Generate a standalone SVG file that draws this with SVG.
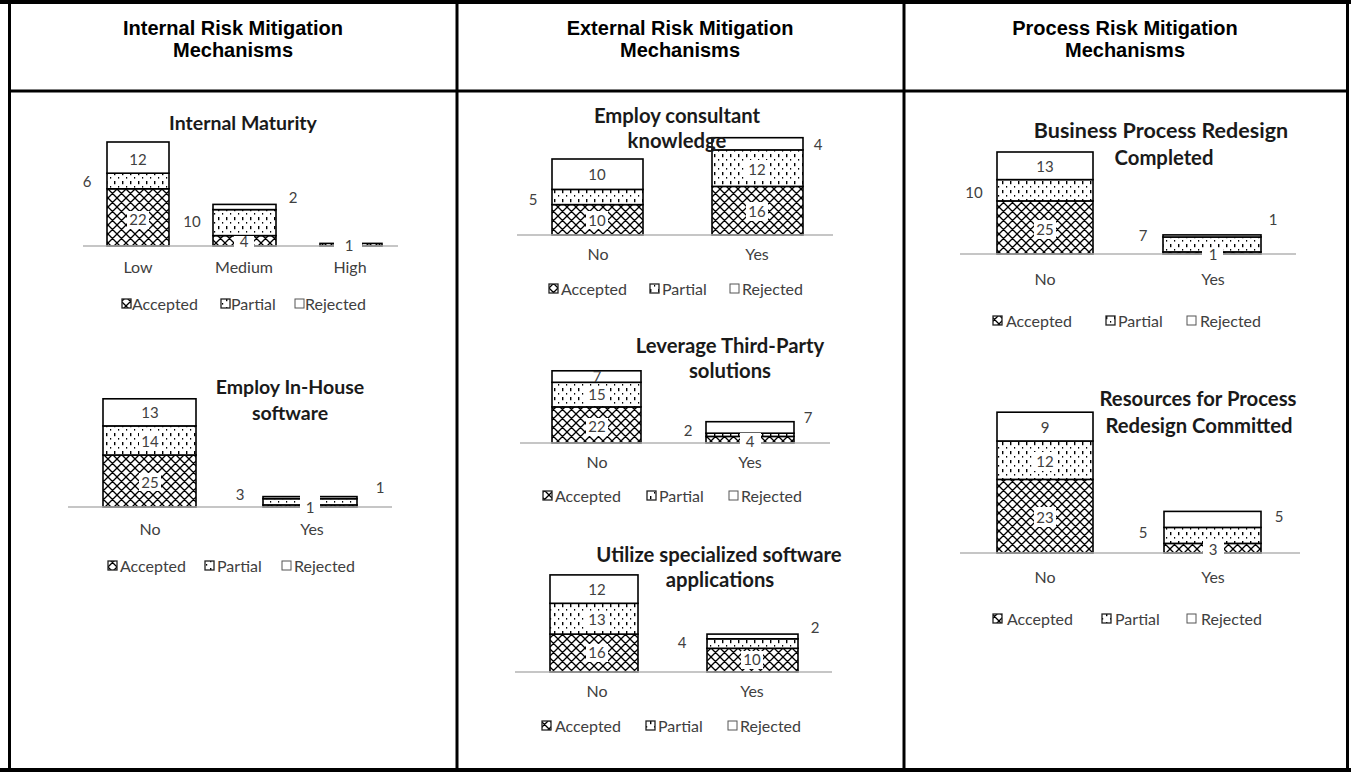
<svg xmlns="http://www.w3.org/2000/svg" width="1351" height="772" viewBox="0 0 1351 772">
<defs>
<pattern id="hatchA" patternUnits="userSpaceOnUse" width="9" height="9">
<rect width="9" height="9" fill="#fff"/>
<path d="M0,0 L9,9 M9,0 L0,9 M-1,8 L1,10 M8,-1 L10,1 M-1,1 L1,-1 M8,10 L10,8" stroke="#000" stroke-width="1.3" fill="none"/>
</pattern>
<pattern id="dotP" patternUnits="userSpaceOnUse" width="8" height="9">
<rect width="8" height="9" fill="#fff"/>
<rect x="2" y="1" width="1.4" height="3.2" fill="#000"/>
<rect x="6" y="6" width="1.2" height="1.6" fill="#000"/>
</pattern>
<style>
.hdr{font-family:"Liberation Sans",Arial,sans-serif;font-weight:bold;font-size:20px;text-anchor:middle;fill:#000}
.ttl{font-family:Lato,"Open Sans",sans-serif;font-weight:bold;font-size:20.3px;text-anchor:middle;fill:#1a1a1a}
.t1{font-size:19.5px}
.t2{font-size:21.5px}
.lbl{font-family:Lato,"Open Sans",sans-serif;font-size:15px;text-anchor:middle;fill:#404040}
.cat{font-family:Lato,"Open Sans",sans-serif;font-size:16px;text-anchor:middle;fill:#404040}
.leg{font-family:Lato,"Open Sans",sans-serif;font-size:16px;fill:#404040}
.acc{fill:url(#hatchA);stroke:#000;stroke-width:1.6}
.par{fill:url(#dotP);stroke:#000;stroke-width:1.6}
.rej{fill:#fff;stroke:#000;stroke-width:1.6}
.ia{fill:url(#hatchA);stroke:#222;stroke-width:1.3}
.ip{fill:url(#dotP);stroke:#222;stroke-width:1.3}
.ir{fill:#fff;stroke:#555;stroke-width:1}
.axis{stroke:#b3b3b3;stroke-width:1.5;fill:none}
.bg{fill:#fff}
.grid{stroke:#000;fill:none}
</style>
</defs>
<rect width="1351" height="772" fill="#fff"/>

<g id="table">
<line class="grid" x1="0" y1="2" x2="1351" y2="2" stroke-width="4"/>
<line class="grid" x1="9.5" y1="0" x2="9.5" y2="772" stroke-width="3"/>
<line class="grid" x1="1347.5" y1="0" x2="1347.5" y2="772" stroke-width="3"/>
<line class="grid" x1="0" y1="770" x2="1351" y2="770" stroke-width="4"/>
<line class="grid" x1="9" y1="91" x2="1349" y2="91" stroke-width="3"/>
<line class="grid" x1="457" y1="2" x2="457" y2="770" stroke-width="3"/>
<line class="grid" x1="904" y1="2" x2="904" y2="770" stroke-width="3"/>
</g>

<g id="header-internal">
<text class="hdr" x="233" y="35">Internal Risk Mitigation</text>
<text class="hdr" x="233" y="57">Mechanisms</text>
</g>
<g id="header-external">
<text class="hdr" x="680" y="35">External Risk Mitigation</text>
<text class="hdr" x="680" y="57">Mechanisms</text>
</g>
<g id="header-process">
<text class="hdr" x="1125" y="35">Process Risk Mitigation</text>
<text class="hdr" x="1125" y="57">Mechanisms</text>
</g>

<g id="chart-internal-maturity">
<text class="ttl t1" x="243" y="130">Internal Maturity</text>
<rect class="acc" x="107" y="188.8" width="62" height="57.2"/>
<rect class="par" x="107" y="173.2" width="62" height="15.6"/>
<rect class="rej" x="107" y="142" width="62" height="31.2"/>
<rect class="acc" x="213" y="235.6" width="63" height="10.4"/>
<rect class="par" x="213" y="209.6" width="63" height="26"/>
<rect class="rej" x="213" y="204.4" width="63" height="5.2"/>
<rect class="acc" x="320" y="243.4" width="62" height="2.6"/>
<line class="axis" x1="83" y1="246" x2="398" y2="246"/>
<rect class="bg" x="127" y="211" width="22" height="18"/>
<rect class="bg" x="234" y="236" width="20" height="15"/>
<rect class="bg" x="334" y="238" width="28" height="16"/>
<text class="lbl" x="138" y="165">12</text>
<text class="lbl" x="87" y="187">6</text>
<text class="lbl" x="138" y="225">22</text>
<text class="lbl" x="192" y="227">10</text>
<text class="lbl" x="293" y="203">2</text>
<text class="lbl" x="244" y="247">4</text>
<text class="lbl" x="349" y="251">1</text>
<text class="cat" x="138" y="273">Low</text>
<text class="cat" x="244" y="273">Medium</text>
<text class="cat" x="350" y="273">High</text>
<rect class="ia" x="122" y="299" width="9" height="9"/><text class="leg" x="132" y="310">Accepted</text>
<rect class="ip" x="221" y="299" width="9" height="9"/><text class="leg" x="231" y="310">Partial</text>
<rect class="ir" x="295" y="299" width="9" height="9"/><text class="leg" x="305" y="310">Rejected</text>
</g>

<g id="chart-inhouse-software">
<rect class="acc" x="103" y="455" width="93" height="52"/>
<rect class="par" x="103" y="425.9" width="93" height="29.1"/>
<rect class="rej" x="103" y="398.8" width="93" height="27.1"/>
<rect class="acc" x="263" y="504.9" width="94" height="2.1"/>
<rect class="par" x="263" y="498.7" width="94" height="6.2"/>
<rect class="rej" x="263" y="496.6" width="94" height="2.1"/>
<line class="axis" x1="68" y1="507" x2="392" y2="507"/>
<rect class="bg" x="139" y="432" width="22" height="18"/>
<rect class="bg" x="139" y="473" width="22" height="18"/>
<rect class="bg" x="300" y="494" width="20" height="20"/>
<text class="ttl t1" x="290" y="394">Employ In-House</text>
<text class="ttl t1" x="290" y="420">software</text>
<text class="lbl" x="150" y="418">13</text>
<text class="lbl" x="150" y="447">14</text>
<text class="lbl" x="150" y="488">25</text>
<text class="lbl" x="240" y="500">3</text>
<text class="lbl" x="380" y="493">1</text>
<text class="lbl" x="310" y="513">1</text>
<text class="cat" x="150" y="535">No</text>
<text class="cat" x="312" y="535">Yes</text>
<rect class="ia" x="108" y="561" width="9" height="9"/><text class="leg" x="120" y="572">Accepted</text>
<rect class="ip" x="205" y="561" width="9" height="9"/><text class="leg" x="217" y="572">Partial</text>
<rect class="ir" x="282" y="561" width="9" height="9"/><text class="leg" x="294" y="572">Rejected</text>
</g>

<g id="chart-consultant-knowledge">
<rect class="acc" x="552" y="204.6" width="91" height="30.4"/>
<rect class="par" x="552" y="189.4" width="91" height="15.2"/>
<rect class="rej" x="552" y="159" width="91" height="30.4"/>
<rect class="acc" x="712" y="186.4" width="91" height="48.6"/>
<rect class="par" x="712" y="149.9" width="91" height="36.5"/>
<rect class="rej" x="712" y="137.7" width="91" height="12.2"/>
<line class="axis" x1="517" y1="235" x2="833" y2="235"/>
<rect class="bg" x="586" y="211" width="22" height="18"/>
<rect class="bg" x="746" y="160" width="22" height="19"/>
<rect class="bg" x="746" y="202" width="22" height="19"/>
<text class="ttl" x="677" y="123">Employ consultant</text>
<text class="ttl" x="677" y="148">knowledge</text>
<text class="lbl" x="597" y="180">10</text>
<text class="lbl" x="533" y="205">5</text>
<text class="lbl" x="597" y="226">10</text>
<text class="lbl" x="757" y="175">12</text>
<text class="lbl" x="757" y="217">16</text>
<text class="lbl" x="818" y="150">4</text>
<text class="cat" x="598" y="260">No</text>
<text class="cat" x="757" y="260">Yes</text>
<rect class="ia" x="549" y="284" width="9" height="9"/><text class="leg" x="561" y="295">Accepted</text>
<rect class="ip" x="650" y="284" width="9" height="9"/><text class="leg" x="662" y="295">Partial</text>
<rect class="ir" x="730" y="284" width="9" height="9"/><text class="leg" x="742" y="295">Rejected</text>
</g>

<g id="chart-third-party">
<rect class="acc" x="552" y="406.9" width="89" height="36.1"/>
<rect class="par" x="552" y="382.3" width="89" height="24.6"/>
<rect class="rej" x="552" y="370.8" width="89" height="11.5"/>
<rect class="acc" x="706" y="436.4" width="88" height="6.6"/>
<rect class="par" x="706" y="433.2" width="88" height="3.2"/>
<rect class="rej" x="706" y="421.7" width="88" height="11.5"/>
<line class="axis" x1="520" y1="443" x2="830" y2="443"/>
<rect class="bg" x="586" y="386" width="22" height="18"/>
<rect class="bg" x="586" y="418" width="22" height="18"/>
<rect class="bg" x="740" y="433" width="21" height="17"/>
<text class="ttl" x="730" y="353">Leverage Third-Party</text>
<text class="ttl" x="730" y="378">solutions</text>
<text class="lbl" x="597" y="382">7</text>
<text class="lbl" x="597" y="400">15</text>
<text class="lbl" x="597" y="432">22</text>
<text class="lbl" x="688" y="436">2</text>
<text class="lbl" x="808" y="423">7</text>
<text class="lbl" x="750" y="447">4</text>
<text class="cat" x="597" y="468">No</text>
<text class="cat" x="750" y="468">Yes</text>
<rect class="ia" x="543" y="491" width="9" height="9"/><text class="leg" x="555" y="502">Accepted</text>
<rect class="ip" x="647" y="491" width="9" height="9"/><text class="leg" x="659" y="502">Partial</text>
<rect class="ir" x="729" y="491" width="9" height="9"/><text class="leg" x="741" y="502">Rejected</text>
</g>

<g id="chart-specialized-software">
<rect class="acc" x="550" y="634.1" width="88" height="37.9"/>
<rect class="par" x="550" y="603.3" width="88" height="30.8"/>
<rect class="rej" x="550" y="574.9" width="88" height="28.4"/>
<rect class="acc" x="707" y="648.3" width="91" height="23.7"/>
<rect class="par" x="707" y="638.8" width="91" height="9.5"/>
<rect class="rej" x="707" y="634.1" width="91" height="4.7"/>
<line class="axis" x1="515" y1="672" x2="832" y2="672"/>
<rect class="bg" x="586" y="611" width="22" height="18"/>
<rect class="bg" x="586" y="644" width="22" height="18"/>
<rect class="bg" x="741" y="651" width="22" height="18"/>
<text class="ttl" x="719" y="562">Utilize specialized software</text>
<text class="ttl" x="720" y="587">applications</text>
<text class="lbl" x="597" y="595">12</text>
<text class="lbl" x="597" y="625">13</text>
<text class="lbl" x="597" y="658">16</text>
<text class="lbl" x="682" y="648">4</text>
<text class="lbl" x="752" y="665">10</text>
<text class="lbl" x="815" y="633">2</text>
<text class="cat" x="597" y="697">No</text>
<text class="cat" x="752" y="697">Yes</text>
<rect class="ia" x="542" y="721" width="9" height="9"/><text class="leg" x="555" y="732">Accepted</text>
<rect class="ip" x="646" y="721" width="9" height="9"/><text class="leg" x="658" y="732">Partial</text>
<rect class="ir" x="728" y="721" width="9" height="9"/><text class="leg" x="740" y="732">Rejected</text>
</g>

<g id="chart-bpr-completed">
<rect class="acc" x="997" y="200.9" width="96" height="53.1"/>
<rect class="par" x="997" y="179.6" width="96" height="21.3"/>
<rect class="rej" x="997" y="152" width="96" height="27.6"/>
<rect class="acc" x="1163" y="251.9" width="98" height="2.1"/>
<rect class="par" x="1163" y="237" width="98" height="14.9"/>
<rect class="rej" x="1163" y="234.9" width="98" height="2.1"/>
<line class="axis" x1="960" y1="254" x2="1296" y2="254"/>
<rect class="bg" x="1034" y="220" width="22" height="19"/>
<rect class="bg" x="1202" y="248" width="21" height="16"/>
<text class="ttl t2" x="1161" y="138">Business Process Redesign</text>
<text class="ttl" x="1164" y="165">Completed</text>
<text class="lbl" x="1045" y="172">13</text>
<text class="lbl" x="974" y="198">10</text>
<text class="lbl" x="1045" y="235">25</text>
<text class="lbl" x="1143" y="241">7</text>
<text class="lbl" x="1273" y="225">1</text>
<text class="lbl" x="1213" y="260">1</text>
<text class="cat" x="1045" y="285">No</text>
<text class="cat" x="1213" y="285">Yes</text>
<rect class="ia" x="993" y="316" width="9" height="9"/><text class="leg" x="1006" y="327">Accepted</text>
<rect class="ip" x="1106" y="316" width="9" height="9"/><text class="leg" x="1118" y="327">Partial</text>
<rect class="ir" x="1187" y="316" width="9" height="9"/><text class="leg" x="1200" y="327">Rejected</text>
</g>

<g id="chart-resources-committed">
<rect class="acc" x="997" y="479.4" width="96" height="73.6"/>
<rect class="par" x="997" y="441" width="96" height="38.4"/>
<rect class="rej" x="997" y="412.2" width="96" height="28.8"/>
<rect class="acc" x="1164" y="543.4" width="97" height="9.6"/>
<rect class="par" x="1164" y="527.4" width="97" height="16"/>
<rect class="rej" x="1164" y="511.4" width="97" height="16"/>
<line class="axis" x1="960" y1="553" x2="1300" y2="553"/>
<rect class="bg" x="1034" y="452" width="22" height="19"/>
<rect class="bg" x="1034" y="507" width="22" height="20"/>
<rect class="bg" x="1203" y="539" width="21" height="17"/>
<text class="ttl" x="1198" y="406">Resources for Process</text>
<text class="ttl" x="1199" y="433">Redesign Committed</text>
<text class="lbl" x="1045" y="433">9</text>
<text class="lbl" x="1045" y="467">12</text>
<text class="lbl" x="1045" y="523">23</text>
<text class="lbl" x="1143" y="538">5</text>
<text class="lbl" x="1279" y="522">5</text>
<text class="lbl" x="1213" y="555">3</text>
<text class="cat" x="1045" y="583">No</text>
<text class="cat" x="1213" y="583">Yes</text>
<rect class="ia" x="993" y="614" width="9" height="9"/><text class="leg" x="1007" y="625">Accepted</text>
<rect class="ip" x="1102" y="614" width="9" height="9"/><text class="leg" x="1115" y="625">Partial</text>
<rect class="ir" x="1187" y="614" width="9" height="9"/><text class="leg" x="1201" y="625">Rejected</text>
</g>
</svg>
